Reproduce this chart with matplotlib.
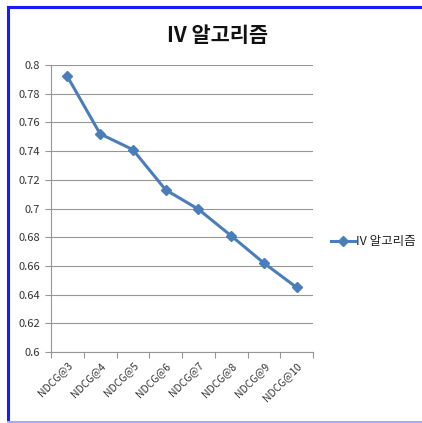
import matplotlib.pyplot as plt
from matplotlib.lines import Line2D

plt.rcParams['font.family'] = ['Noto Sans CJK KR', 'DejaVu Sans']

categories = ["NDCG@3", "NDCG@4", "NDCG@5", "NDCG@6",
              "NDCG@7", "NDCG@8", "NDCG@9", "NDCG@10"]
iv_values = [0.792, 0.752, 0.741, 0.713, 0.6995, 0.681, 0.662, 0.645]
series_name = "IV 알고리즘"
y_ticks = [0.6, 0.62, 0.64, 0.66, 0.68, 0.7, 0.72, 0.74, 0.76, 0.78, 0.8]
y_tick_labels = ["0.6", "0.62", "0.64", "0.66", "0.68", "0.7",
                 "0.72", "0.74", "0.76", "0.78", "0.8"]

line_color = "#4a7ebb"
grid_color = "#969696"

fig = plt.figure(figsize=(4.22, 4.23), dpi=100)
ax = fig.add_axes([51 / 422, 1 - 352 / 423, (313 - 51) / 422, (352 - 65) / 423])

xs = list(range(len(categories)))
ax.plot(xs, iv_values, color=line_color, linewidth=2.2, marker="D",
        markersize=5, markerfacecolor=line_color, markeredgecolor=line_color)

ax.set_xlim(-0.5, len(categories) - 0.5)
ax.set_ylim(0.6, 0.8)
ax.set_yticks(y_ticks)
ax.set_yticklabels(y_tick_labels, fontsize=8, color="#333333")
ax.yaxis.grid(True, color=grid_color, linewidth=0.8)
ax.set_axisbelow(True)

# category ticks at the boundaries, labels at the centres
ax.set_xticks([i - 0.5 for i in range(len(categories) + 1)])
ax.set_xticklabels([])
ax.set_xticks(xs, minor=True)
ax.set_xticklabels(categories, minor=True, rotation=45, ha="right",
                   rotation_mode="anchor", fontsize=7.5, color="#333333")
ax.tick_params(axis="x", which="major", length=4, color=grid_color, direction="out")
ax.tick_params(axis="x", which="minor", length=0, pad=6)
ax.tick_params(axis="y", length=4, color=grid_color, direction="out", pad=4)

for side in ("top", "right"):
    ax.spines[side].set_visible(False)
for side in ("left", "bottom"):
    ax.spines[side].set_color(grid_color)
    ax.spines[side].set_linewidth(0.8)

fig.text(217 / 422, 1 - 35 / 423, series_name, ha="center", va="center",
         fontsize=15, fontweight="bold", color="#111111")

# legend drawn by hand at the right side
fig.add_artist(Line2D([331 / 422, 355 / 422], [1 - 241 / 423] * 2,
                      color=line_color, linewidth=2.2))
fig.add_artist(Line2D([343 / 422], [1 - 241 / 423], color=line_color,
                      marker="D", markersize=5))
fig.text(356 / 422, 1 - 241 / 423, series_name, ha="left", va="center",
         fontsize=9, color="#222222")

# blue frame around the chart
fig.add_artist(Line2D([8 / 422, 8 / 422], [1 - 422 / 423, 1 - 7 / 423],
                      color="#1a1aff", linewidth=2.2))
fig.add_artist(Line2D([8 / 422, 1.0], [1 - 7 / 423] * 2,
                      color="#1a1aff", linewidth=2.2))
fig.add_artist(Line2D([8 / 422, 1.0], [1 - 421.5 / 423] * 2,
                      color="#a8a8ff", linewidth=1.5))

fig.savefig("out.png", dpi=100, facecolor="white")
